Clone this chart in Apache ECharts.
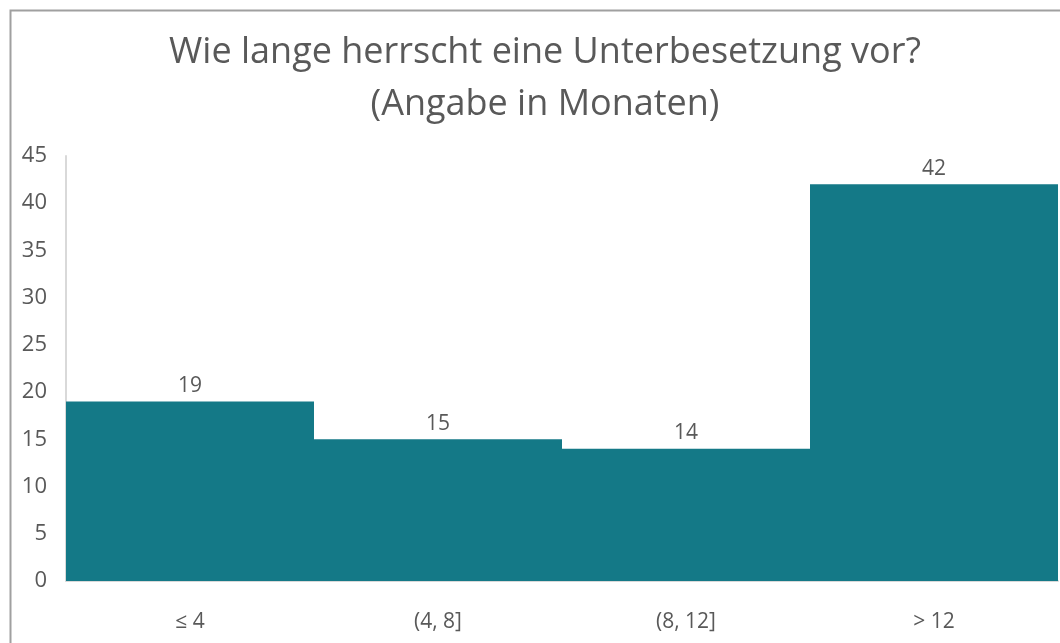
<!DOCTYPE html>
<html>
<head>
<meta charset="utf-8">
<script src="https://cdn.jsdelivr.net/npm/echarts@6/dist/echarts.min.js"></script>
<style>
html, body { margin: 0; padding: 0; background: #fff; }
#chart { width: 1060px; height: 643px; }
</style>
</head>
<body>
<div id="chart"></div>
<script>
var categories = ['\u2264 4', '(4, 8]', '(8, 12]', '> 12'];
var values = [19, 15, 14, 42];
var titleLines = ['Wie lange herrscht eine Unterbesetzung vor?', '(Angabe in Monaten)'];

var FONT = '"Open Sans", "Noto Sans", sans-serif';
var TEXT = '#595959';

var myChart = echarts.init(document.getElementById('chart'));
var option = {
    animation: false,
    backgroundColor: '#fff',
    textStyle: { fontFamily: FONT },
    title: {
        text: titleLines.join('\n'),
        left: 540,
        textAlign: 'center',
        top: 22,
        textStyle: {
            fontFamily: FONT,
            fontSize: 36,
            fontWeight: 'normal',
            color: TEXT,
            lineHeight: 52
        }
    },
    graphic: [{
        type: 'rect',
        shape: { x: 10.5, y: 10.5, width: 1100, height: 700 },
        style: { fill: 'none', stroke: '#a0a0a0', lineWidth: 2 },
        silent: true
    }],
    grid: { left: 66, right: 2, top: 156, bottom: 62 },
    xAxis: {
        type: 'category',
        data: categories,
        axisLine: { lineStyle: { color: '#d9d9d9', width: 2 } },
        axisTick: { show: false },
        axisLabel: { color: TEXT, fontSize: 21, margin: 31, fontFamily: FONT }
    },
    yAxis: {
        type: 'value',
        min: 0,
        max: 45,
        interval: 5,
        axisLine: { show: true, lineStyle: { color: '#d9d9d9', width: 2 } },
        axisTick: { show: false },
        splitLine: { show: false },
        axisLabel: { color: TEXT, fontSize: 22, margin: 19, fontFamily: FONT, padding: [12, 0, 0, 0] }
    },
    series: [{
        type: 'bar',
        data: values,
        barWidth: '100%',
        barCategoryGap: 0,
        itemStyle: { color: '#147987' },
        label: {
            show: true,
            position: 'top',
            distance: 5,
            color: TEXT,
            fontSize: 21,
            fontFamily: FONT
        }
    }]
};
myChart.setOption(option);
</script>
</body>
</html>
